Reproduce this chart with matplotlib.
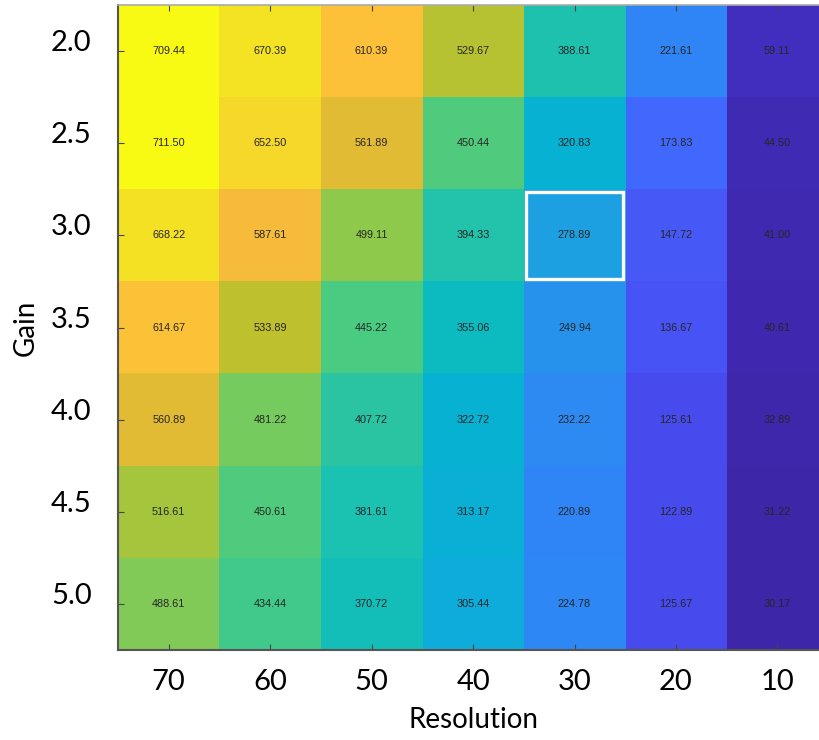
import matplotlib
matplotlib.use("Agg")
import matplotlib.pyplot as plt
import numpy as np
from matplotlib.colors import LinearSegmentedColormap
from matplotlib.patches import Rectangle

# data
resolution = [70, 60, 50, 40, 30, 20, 10]
gain = ["2.0", "2.5", "3.0", "3.5", "4.0", "4.5", "5.0"]

row_20 = [709.44, 670.39, 610.39, 529.67, 388.61, 221.61, 59.11]
row_25 = [711.50, 652.50, 561.89, 450.44, 320.83, 173.83, 44.50]
row_30 = [668.22, 587.61, 499.11, 394.33, 278.89, 147.72, 41.00]
row_35 = [614.67, 533.89, 445.22, 355.06, 249.94, 136.67, 40.61]
row_40 = [560.89, 481.22, 407.72, 322.72, 232.22, 125.61, 32.89]
row_45 = [516.61, 450.61, 381.61, 313.17, 220.89, 122.89, 31.22]
row_50 = [488.61, 434.44, 370.72, 305.44, 224.78, 125.67, 30.17]

best_row, best_col = 2, 4   # highlighted cell (Gain 3.0, Resolution 30)

values = np.array([row_20, row_25, row_30, row_35, row_40, row_45, row_50])

# parula-like colormap
parula_pts = [
    (0.243, 0.150, 0.660), (0.262, 0.190, 0.775), (0.277, 0.245, 0.885),
    (0.281, 0.315, 0.952), (0.267, 0.397, 0.992), (0.206, 0.478, 0.993),
    (0.169, 0.551, 0.945), (0.135, 0.610, 0.900), (0.060, 0.675, 0.860),
    (0.000, 0.715, 0.800), (0.080, 0.750, 0.720), (0.160, 0.770, 0.650),
    (0.270, 0.795, 0.530), (0.420, 0.805, 0.410), (0.600, 0.785, 0.270),
    (0.780, 0.750, 0.160), (0.950, 0.725, 0.230), (0.995, 0.750, 0.225),
    (0.965, 0.830, 0.180), (0.955, 0.905, 0.130), (0.977, 0.984, 0.080),
]
parula = LinearSegmentedColormap.from_list("parula", parula_pts)

plt.rcParams['font.family'] = ['Lato', 'DejaVu Sans']

fig = plt.figure(figsize=(8.2, 7.4), dpi=100)
ax = fig.add_axes([0.1439, 0.1216, 0.866, 0.8716])

ax.imshow(values, cmap=parula, aspect='auto', interpolation='nearest')

for i in range(values.shape[0]):
    for j in range(values.shape[1]):
        ax.text(j, i, "%.2f" % values[i, j], ha='center', va='center',
                fontsize=7.8, color='#262626', family='Liberation Sans')

ax.add_patch(Rectangle((best_col - 0.48, best_row - 0.47), 0.96, 0.94,
                       fill=False, edgecolor='white', linewidth=2.4))

ax.set_xticks(range(len(resolution)))
ax.set_xticklabels([str(r) for r in resolution])
ax.set_yticks(range(len(gain)))
ax.set_yticklabels(gain)
for lab in ax.get_yticklabels():
    lab.set_verticalalignment('baseline')

ax.tick_params(axis='x', which='both', direction='in', top=True, bottom=True,
               length=4, width=0.8, color='#444444', labelsize=21, pad=14)
ax.tick_params(axis='y', which='both', direction='in', left=True, right=False,
               length=4, width=0.8, color='#444444', labelsize=21, pad=19)

ax.set_xlabel("Resolution", fontsize=20, labelpad=8)
ax.set_ylabel("Gain", fontsize=20, labelpad=9)

for side in ['left', 'bottom']:
    ax.spines[side].set_color('#555555')
    ax.spines[side].set_linewidth(1.5)
ax.spines['top'].set_color('#aaaaaa')
ax.spines['top'].set_linewidth(1.2)
ax.spines['right'].set_visible(False)

fig.savefig("out.png", dpi=100)
